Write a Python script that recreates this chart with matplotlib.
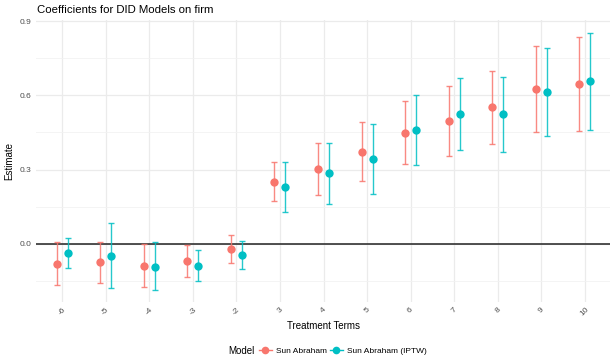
import matplotlib
matplotlib.use("Agg")
import matplotlib.pyplot as plt
from matplotlib.lines import Line2D
import numpy as np

plt.rcParams['font.family'] = ['Liberation Sans', 'DejaVu Sans']

# event-time terms and estimates with confidence bounds
terms = ['-6', '-5', '-4', '-3', '-2', '3', '4', '5', '6', '7', '8', '9', '10']

sa_est = [-0.081, -0.075, -0.090, -0.071, -0.021, 0.250, 0.302, 0.371, 0.449, 0.495, 0.551, 0.626, 0.646]
sa_low = [-0.169, -0.160, -0.176, -0.136, -0.079, 0.171, 0.198, 0.255, 0.324, 0.354, 0.404, 0.452, 0.455]
sa_high = [0.006, 0.008, -0.002, -0.007, 0.037, 0.329, 0.406, 0.493, 0.576, 0.637, 0.699, 0.800, 0.837]

iptw_est = [-0.038, -0.051, -0.093, -0.089, -0.046, 0.230, 0.286, 0.341, 0.459, 0.524, 0.524, 0.613, 0.657]
iptw_low = [-0.099, -0.179, -0.188, -0.151, -0.103, 0.128, 0.162, 0.200, 0.319, 0.377, 0.372, 0.434, 0.460]
iptw_high = [0.021, 0.082, 0.006, -0.026, 0.011, 0.329, 0.409, 0.483, 0.601, 0.671, 0.675, 0.792, 0.853]

models = ['Sun Abraham', 'Sun Abraham (IPTW)']
colors = ['#F8766D', '#00BFC4']

fig = plt.figure(figsize=(6.1, 3.64), dpi=100)
ax = fig.add_axes([36 / 610, 1 - 302 / 364, 575 / 610, 282 / 364])

x = np.arange(len(terms))
dodge = 0.125
series = [(sa_est, sa_low, sa_high), (iptw_est, iptw_low, iptw_high)]
for k, (est, lo, hi) in enumerate(series):
    est = np.array(est)
    err = [est - np.array(lo), np.array(hi) - est]
    xs = x + (-dodge if k == 0 else dodge)
    ax.errorbar(xs, est, yerr=err, fmt='none', ecolor=colors[k], elinewidth=1.0,
                capsize=2.2, capthick=1.0, alpha=0.85, zorder=3)
    ax.plot(xs, est, 'o', color=colors[k], markersize=6.0, markeredgewidth=0, zorder=4)

ax.axhline(0, color='#222222', linewidth=1.1, zorder=2)

ax.set_xlim(-0.6, len(terms) - 0.4)
ax.set_ylim(-0.236, 0.905)
ax.set_xticks(x)
ax.set_xticklabels(terms, rotation=45, ha='center', fontsize=6, color='#4D4D4D')
ax.set_yticks([0.0, 0.3, 0.6, 0.9])
ax.set_yticklabels(['0.0', '0.3', '0.6', '0.9'], fontsize=6, color='#4D4D4D')
ax.set_yticks([-0.15, 0.15, 0.45, 0.75], minor=True)
ax.tick_params(axis='both', which='both', length=0, pad=3)

ax.grid(True, which='major', color='#EBEBEB', linewidth=0.9, zorder=0)
ax.grid(True, which='minor', axis='y', color='#F2F2F2', linewidth=0.6, zorder=0)
ax.set_axisbelow(True)
for s in ax.spines.values():
    s.set_visible(False)

ax.set_xlabel('Treatment Terms', fontsize=7, labelpad=2)
ax.set_ylabel('Estimate', fontsize=7, labelpad=4)
fig.text(37 / 610, 1 - 10 / 364, 'Coefficients for DID Models on firm', fontsize=8.2,
         ha='left', va='center')

# legend below the panel: title followed by the two model keys
fig.text(228 / 610, 1 - 351 / 364, 'Model', fontsize=7, ha='left', va='center')
handles = [Line2D([0], [0], color=c, marker='o', markersize=5.5, linewidth=1.0,
                  markeredgewidth=0) for c in colors]
fig.legend(handles, models, loc='center left', bbox_to_anchor=(259 / 610, 1 - 351 / 364),
           ncol=2, frameon=False, fontsize=6.0, handlelength=1.5, handletextpad=0.5,
           columnspacing=0.4, borderpad=0, borderaxespad=0)

fig.savefig('out.png', dpi=100)
